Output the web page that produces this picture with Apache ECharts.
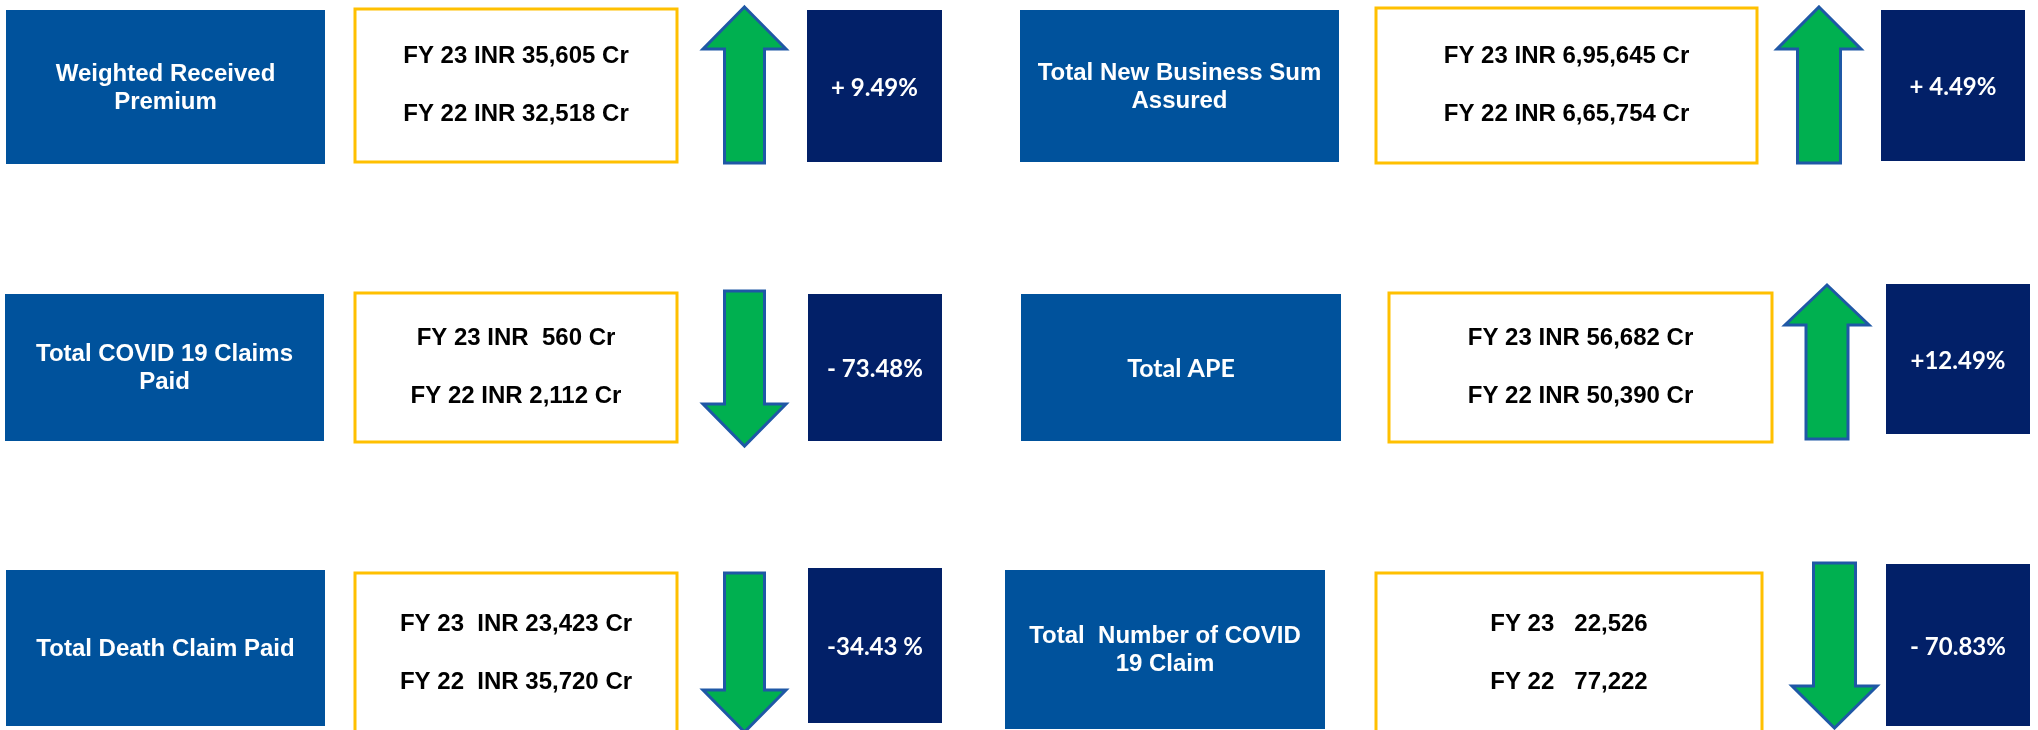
<!DOCTYPE html>
<html>
<head>
<meta charset="utf-8">
<script src="https://cdn.jsdelivr.net/npm/echarts@6/dist/echarts.min.js"></script>
<style>
  html, body { margin: 0; padding: 0; background: #ffffff; }
  #chart { width: 2038px; height: 730px; }
</style>
</head>
<body>
<div id="chart"></div>
<script>
// ---------------- DATA ----------------
const metricLabels = [
  'Weighted Received\nPremium',
  'Total New Business Sum\nAssured',
  'Total COVID 19 Claims\nPaid',
  'Total APE',
  'Total Death Claim Paid',
  'Total  Number of COVID\n19 Claim'
];
const fy23Values = [
  'FY 23 INR 35,605 Cr',
  'FY 23 INR 6,95,645 Cr',
  'FY 23 INR  560 Cr',
  'FY 23 INR 56,682 Cr',
  'FY 23  INR 23,423 Cr',
  'FY 23   22,526'
];
const fy22Values = [
  'FY 22 INR 32,518 Cr',
  'FY 22 INR 6,65,754 Cr',
  'FY 22 INR 2,112 Cr',
  'FY 22 INR 50,390 Cr',
  'FY 22  INR 35,720 Cr',
  'FY 22   77,222'
];
const changeTexts = ['+ 9.49%', '+ 4.49%', '- 73.48%', '+12.49%', '-34.43 %', '- 70.83%'];
const directions = ['up', 'up', 'down', 'up', 'down', 'down'];
const columnCats = ['left', 'right'];
const rowCats = ['row1', 'row2', 'row3'];
const cardColumn = [0, 1, 0, 1, 0, 1];
const cardRow = [0, 0, 1, 1, 2, 2];

// ---------------- LAYOUT / STYLE (offsets from each card's axis anchor) ----------------
const LAYOUT = [
  { label:[-468,-77.2,319,154], box:[-119,-78.2,322,153], arrow:{cx:270.5,top:-80.2,bottom:75.8,headH:42,headHalf:41.5,shaftHalf:20}, change:[333,-77.2,135,152] },
  { label:[-498,-77.2,319,152], box:[-142,-79.2,381,155], arrow:{cx:301,top:-80.2,bottom:75.8,headH:42,headHalf:42,shaftHalf:21.5}, change:[363,-77.2,144,151] },
  { label:[-469,-73.5,319,147], box:[-119,-74.5,322,149], arrow:{cx:270.5,top:-76.5,bottom:78.5,headH:42,headHalf:41.5,shaftHalf:20}, change:[334,-73.5,134,147] },
  { label:[-497,-73.5,320,147], box:[-129,-74.5,383,149], arrow:{cx:309,top:-82.5,bottom:71.5,headH:40,headHalf:42,shaftHalf:21}, change:[368,-83.5,144,150] },
  { label:[-468,-77.8,319,156], box:[-119,-74.8,322,160], arrow:{cx:270.5,top:-74.8,bottom:84.2,headH:42,headHalf:41.5,shaftHalf:20}, change:[334,-79.8,134,155] },
  { label:[-513,-77.8,320,159], box:[-142,-74.8,386,160], arrow:{cx:316.5,top:-84.8,bottom:80.2,headH:42,headHalf:42.5,shaftHalf:21}, change:[368,-83.8,144,162] }
];
const labelFont = ['arial', 'arial', 'arial', 'lato', 'arial', 'arial'];

const COLORS = {
  label: '#00529C',
  change: '#022068',
  boxBorder: '#FFC000',
  arrowFill: '#00B050',
  arrowStroke: '#1F58A6'
};
const FONT_ARIAL = '"Liberation Sans", Arial, sans-serif';
const FONT_LATO = 'Lato, "Open Sans", sans-serif';

const seriesData = cardColumn.map((c, i) => [c, cardRow[i], i]);

function arrowPoints(a, cx, cy, dir) {
  const x = cx + a.cx;
  if (dir === 'up') {
    const tip = cy + a.top, base = cy + a.top + a.headH, bot = cy + a.bottom;
    return [[x, tip], [x + a.headHalf, base], [x + a.shaftHalf, base], [x + a.shaftHalf, bot],
            [x - a.shaftHalf, bot], [x - a.shaftHalf, base], [x - a.headHalf, base]];
  } else {
    const top = cy + a.top, tip = cy + a.bottom, base = cy + a.bottom - a.headH;
    return [[x - a.shaftHalf, top], [x + a.shaftHalf, top], [x + a.shaftHalf, base], [x + a.headHalf, base],
            [x, tip], [x - a.headHalf, base], [x - a.shaftHalf, base]];
  }
}

function renderItem(params, api) {
  const i = api.value(2);
  const pt = api.coord([api.value(0), api.value(1)]);
  const cx = pt[0], cy = pt[1];
  const L = LAYOUT[i];
  const lb = L.label, bx = L.box, ch = L.change;
  const lf = labelFont[i] === 'lato' ? 'bold 25px ' + FONT_LATO : 'bold 24px ' + FONT_ARIAL;
  const boxCy = cy + bx[1] + bx[3] / 2;
  return {
    type: 'group',
    children: [
      { type: 'rect', shape: { x: cx + lb[0], y: cy + lb[1], width: lb[2], height: lb[3] },
        style: { fill: COLORS.label } },
      { type: 'text', style: { text: metricLabels[i], x: cx + lb[0] + lb[2] / 2, y: cy + lb[1] + lb[3] / 2 + 1,
        align: 'center', verticalAlign: 'middle', fill: '#ffffff', font: lf, lineHeight: 28 } },
      { type: 'rect', shape: { x: cx + bx[0], y: cy + bx[1], width: bx[2], height: bx[3] },
        style: { fill: '#ffffff', stroke: COLORS.boxBorder, lineWidth: 3 } },
      { type: 'text', style: { text: fy23Values[i], x: cx + bx[0] + bx[2] / 2, y: boxCy - 29,
        align: 'center', verticalAlign: 'middle', fill: '#000000', font: 'bold 24px ' + FONT_ARIAL } },
      { type: 'text', style: { text: fy22Values[i], x: cx + bx[0] + bx[2] / 2, y: boxCy + 29,
        align: 'center', verticalAlign: 'middle', fill: '#000000', font: 'bold 24px ' + FONT_ARIAL } },
      { type: 'polygon', shape: { points: arrowPoints(L.arrow, cx, cy, directions[i]) },
        style: { fill: COLORS.arrowFill, stroke: COLORS.arrowStroke, lineWidth: 3, lineJoin: 'miter' } },
      { type: 'rect', shape: { x: cx + ch[0], y: cy + ch[1], width: ch[2], height: ch[3] },
        style: { fill: COLORS.change } },
      { type: 'text', style: { text: changeTexts[i], x: cx + ch[0] + ch[2] / 2, y: cy + ch[1] + ch[3] / 2 + 2,
        align: 'center', verticalAlign: 'middle', fill: '#ffffff', font: 'bold 24px ' + FONT_LATO } }
    ]
  };
}

const chart = echarts.init(document.getElementById('chart'), null, { renderer: 'canvas' });
chart.setOption({
  animation: false,
  backgroundColor: '#ffffff',
  grid: { left: 474, right: 520, top: 87.17, bottom: 82.17, containLabel: false },
  xAxis: { type: 'category', data: columnCats, show: false, boundaryGap: false },
  yAxis: { type: 'category', data: rowCats, show: false, inverse: true, boundaryGap: false },
  series: [{
    type: 'custom',
    renderItem: renderItem,
    data: seriesData,
    clip: false,
    silent: true
  }]
});
</script>
</body>
</html>
